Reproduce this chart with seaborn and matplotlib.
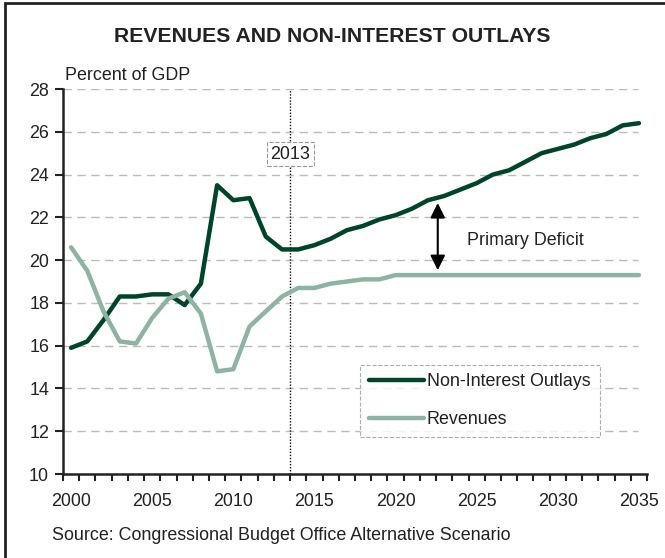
import pandas as pd
import numpy as np
import matplotlib
matplotlib.use("Agg")
import matplotlib.pyplot as plt
import seaborn as sns
from matplotlib.patches import Rectangle

sns.set_theme(style="white")
plt.rcParams["font.family"] = ["Liberation Sans", "DejaVu Sans"]

# ---- data (percent of GDP) ----
years = list(range(2000, 2036))
outlays = [15.9, 16.2, 17.2, 18.3, 18.3, 18.4, 18.4, 17.9, 18.9, 23.5,
           22.8, 22.9, 21.1, 20.5, 20.5, 20.7, 21.0, 21.4, 21.6, 21.9,
           22.1, 22.4, 22.8, 23.0, 23.3, 23.6, 24.0, 24.2, 24.6, 25.0,
           25.2, 25.4, 25.7, 25.9, 26.3, 26.4]
revenues = [20.6, 19.5, 17.6, 16.2, 16.1, 17.3, 18.2, 18.5, 17.5, 14.8,
            14.9, 16.9, 17.6, 18.3, 18.7, 18.7, 18.9, 19.0, 19.1, 19.1,
            19.3, 19.3, 19.3, 19.3, 19.3, 19.3, 19.3, 19.3, 19.3, 19.3,
            19.3, 19.3, 19.3, 19.3, 19.3, 19.3]
series_names = ["Non-Interest Outlays", "Revenues"]
colors = ["#00442A", "#8DB3A2"]

df = pd.DataFrame({"year": years, series_names[0]: outlays, series_names[1]: revenues})
long = df.melt(id_vars="year", var_name="series", value_name="pct")

FS = 12.9
TXT = "#222222"

fig = plt.figure(figsize=(6.65, 5.58), dpi=100)
ax = fig.add_axes([0.0947, 0.1505, 0.8783, 0.69])

sns.lineplot(data=long, x="year", y="pct", hue="series", hue_order=series_names,
             palette=colors, linewidth=3.2, ax=ax, legend=True)

# axes styling
ax.set_xlim(1999.5, 2035.5)
ax.set_ylim(10, 28)
ax.set_yticks(np.arange(10, 29, 2))
ax.set_xticks(np.arange(2000, 2036, 5))
ax.set_xticks(np.arange(1999.5, 2036, 1), minor=True)
ax.tick_params(axis="x", which="major", length=0, pad=14, labelsize=FS, colors=TXT)
ax.tick_params(axis="x", which="minor", length=5, width=1.5, color=TXT, direction="out", bottom=True)
ax.tick_params(axis="y", length=6, width=1.5, color=TXT, direction="out", left=True,
               labelsize=FS, labelcolor=TXT, pad=4)
for s in ["top", "right"]:
    ax.spines[s].set_visible(False)
for s in ["left", "bottom"]:
    ax.spines[s].set_color(TXT)
    ax.spines[s].set_linewidth(1.8)
ax.set_xlabel("")
ax.set_ylabel("")
for v in range(12, 29, 2):
    ax.axhline(v, xmin=0, xmax=0.985, color="#BBBBBB", lw=1.0, ls=(0, (6, 4)), zorder=0)

# 2013 marker
ax.axvline(2013.5, color="#111111", lw=1.0, ls=(0, (1, 1.2)), zorder=1)
ax.text(2013.5, 24.95, "2013", ha="center", va="center", fontsize=FS, color=TXT,
        bbox=dict(boxstyle="square,pad=0.2", fc="white", ec="#999999", lw=0.8, ls="--"))

# primary deficit arrow
ax.annotate("", xy=(2022.6, 22.8), xytext=(2022.6, 19.4),
            arrowprops=dict(arrowstyle="<|-|>", color="black", lw=1.5, mutation_scale=22))
ax.text(2024.4, 20.9, "Primary Deficit", ha="left", va="center", fontsize=FS, color=TXT)

# legend
leg = ax.legend(loc="lower left", bbox_to_anchor=(0.509, 0.096), frameon=True, fontsize=FS,
                handlelength=3.05, handletextpad=0.17, borderpad=0.5, labelspacing=1.15,
                fancybox=False, borderaxespad=0)
leg.get_frame().set_edgecolor("#999999")
leg.get_frame().set_linestyle("--")
leg.get_frame().set_linewidth(0.8)
for t in leg.get_texts():
    t.set_color(TXT)

# figure texts
fig.text(0.5, 0.935, "REVENUES AND NON-INTEREST OUTLAYS", ha="center", va="center",
         fontsize=15.2, fontweight="bold", color=TXT)
fig.text(0.098, 0.865, "Percent of GDP", ha="left", va="center", fontsize=FS, color=TXT)
fig.text(0.078, 0.04, "Source: Congressional Budget Office Alternative Scenario",
         ha="left", va="center", fontsize=FS, color=TXT)

# outer frame (left and top visible)
fig.patches.append(Rectangle((0.007, -0.05), 1.1, 1.045, transform=fig.transFigure,
                             fill=False, ec=TXT, lw=2.0))

fig.savefig("out.png", dpi=100)
